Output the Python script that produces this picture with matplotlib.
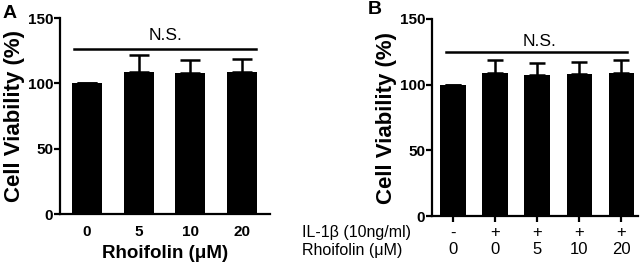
import matplotlib
matplotlib.use("Agg")
import matplotlib.pyplot as plt
import numpy as np

plt.rcParams['font.family'] = ['Liberation Sans', 'DejaVu Sans']

# panel A
doses_a = ['0', '5', '10', '20']
mean_a = [100, 108.5, 108, 109]
err_a = [0, 13.5, 10, 9.5]

# panel B
il1b_b = ['-', '+', '+', '+', '+']
doses_b = ['0', '0', '5', '10', '20']
mean_b = [100, 109, 107, 108, 109]
err_b = [0, 10, 9.5, 9, 10]

fig = plt.figure(figsize=(6.43, 2.70), dpi=100)
W, H = 643, 270


def box(l, r, t, b):
    return [l / W, 1 - b / H, (r - l) / W, (b - t) / H]


def style(ax):
    for s in ['top', 'right']:
        ax.spines[s].set_visible(False)
    for s in ['left', 'bottom']:
        ax.spines[s].set_linewidth(1.6)
    ax.set_ylim(0, 150)
    ax.set_yticks([0, 50, 100, 150])
    ax.tick_params(axis='y', width=1.6, length=4, labelsize=11, pad=1)
    for t in ax.get_yticklabels():
        t.set_fontweight('bold')
    ax.set_ylabel('Cell Viability (%)', fontsize=16, fontweight='bold', labelpad=2)


# ---- A ----
axA = fig.add_axes(box(60, 270, 18, 214))
xa = np.arange(len(mean_a))
axA.bar(xa, mean_a, width=0.58, color='black')
axA.errorbar(xa, mean_a, yerr=[np.zeros(len(err_a)), err_a], fmt='none',
             ecolor='black', elinewidth=1.8, capsize=7, capthick=1.8)
axA.set_xlim(-0.52, 3.54)
style(axA)
axA.set_xticks(xa)
axA.set_xticklabels(doses_a, fontsize=11, fontweight='bold')
axA.tick_params(axis='x', length=0, pad=8)
axA.set_xlabel('Rhoifolin (μM)', fontsize=13.5, fontweight='bold', labelpad=4)
axA.plot([-0.25, 3.27], [126, 126], color='black', lw=1.8, clip_on=False)
axA.text(1.52, 131, 'N.S.', ha='center', va='bottom', fontsize=12.5)
fig.text(3 / W, 1 - 14 / H, 'A', fontsize=14, fontweight='bold', va='center')

# ---- B ----
axB = fig.add_axes(box(432, 638, 19, 216))
xb = np.arange(len(mean_b))
axB.bar(xb, mean_b, width=0.6, color='black')
axB.errorbar(xb, mean_b, yerr=[np.zeros(len(err_b)), err_b], fmt='none',
             ecolor='black', elinewidth=1.8, capsize=5.5, capthick=1.8)
axB.set_xlim(-0.5, 4.4)
style(axB)
axB.set_xticks(xb)
axB.set_xticklabels([])
axB.tick_params(axis='x', width=1.6, length=4)
axB.plot([-0.17, 4.14], [125, 125], color='black', lw=1.8, clip_on=False)
axB.text(2.05, 127, 'N.S.', ha='center', va='bottom', fontsize=12.5)
fig.text(368 / W, 1 - 10 / H, 'B', fontsize=14, fontweight='bold', va='center')

trans = axB.get_xaxis_transform()
y1 = -(233 - 216) / (216 - 19)
y2 = -(250 - 216) / (216 - 19)
for x, s, d in zip(xb, il1b_b, doses_b):
    axB.text(x, y1, s, ha='center', va='center', fontsize=12, transform=trans)
    axB.text(x, y2, d, ha='center', va='center', fontsize=12, transform=trans)
fig.text(302 / W, 1 - 233 / H, 'IL-1β (10ng/ml)', fontsize=11.5, va='center')
fig.text(302 / W, 1 - 250 / H, 'Rhoifolin (μM)', fontsize=11.5, va='center')

fig.savefig('out.png', dpi=100)
